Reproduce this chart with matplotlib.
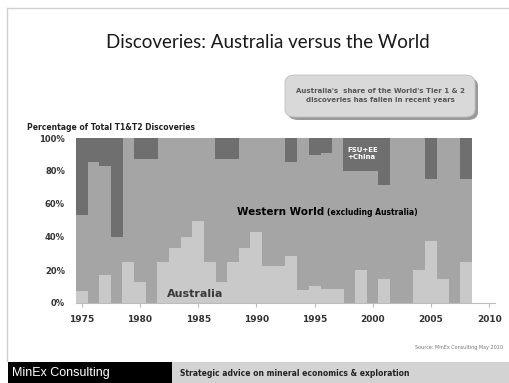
import numpy as np
import matplotlib
matplotlib.use("Agg")
from matplotlib import pyplot as plt
from matplotlib.patches import FancyBboxPatch, Rectangle
from matplotlib.lines import Line2D

# share of T1&T2 discoveries (%), by year
years = list(range(1975, 2009))
australia = [7.1, 0, 16.7, 0, 25, 12.5, 0, 25, 33.3, 40, 50, 25, 12.5, 25, 33.3, 42.9, 22.2,
             22.2, 28.6, 7.7, 10.5, 8.3, 8.3, 0, 20, 0, 14.3, 0, 0, 20, 37.5, 14.3, 0, 25]
western = [46.2, 85.7, 66.6, 40, 75, 75, 87.5, 75, 66.7, 60, 50, 75, 75, 62.5, 66.7, 57.1, 77.8,
           77.8, 57.1, 92.3, 79, 82.6, 91.7, 80, 60, 80, 57.1, 100, 100, 80, 37.5, 85.7, 100, 50]
fsu = [46.7, 14.3, 16.7, 60, 0, 12.5, 12.5, 0, 0, 0, 0, 0, 12.5, 12.5, 0, 0, 0,
       0, 14.3, 0, 10.5, 9.1, 0, 20, 20, 20, 28.6, 0, 0, 0, 25, 0, 0, 25]
xticks = [1975, 1980, 1985, 1990, 1995, 2000, 2005, 2010]
yticks = [0, 20, 40, 60, 80, 100]

narrow = ['Liberation Sans Narrow', 'DejaVu Sans']

fig = plt.figure(figsize=(5.09, 3.83), dpi=100)
fig.patch.set_facecolor('white')

ax = fig.add_axes([76/509, 1-303/383, 419/509, 165/383])
aus = np.array(australia)
ww = np.array(western)
# bars a touch wider than a year so neighbours overlap and no hairline shows
w = 1.04
ax.bar(years, western, width=w, bottom=aus, color='#a5a5a5', linewidth=0)
ax.bar(years, fsu, width=w, bottom=aus+ww, color='#6f6f6f', linewidth=0)
ax.bar(years, australia, width=w, color='#c9c9c9', linewidth=0)

ax.set_xlim(1974.5, 2010.5)
ax.set_ylim(0, 100)
ax.set_xticks(xticks)
ax.set_xticklabels([str(t) for t in xticks], family=narrow, fontsize=6.5, weight='bold', color='#333333')
ax.set_yticks(yticks)
ax.set_yticklabels(['%d%%' % t for t in yticks], family=narrow, fontsize=6, weight='bold', color='#333333')
for s in ['top', 'right', 'left']:
    ax.spines[s].set_visible(False)
ax.spines['bottom'].set_color('#bbbbbb')
ax.tick_params(axis='x', length=3, color='#bbbbbb', pad=6)
ax.tick_params(axis='y', length=0, pad=8)

t = ax.text(1988.3, 55, 'Western World ', family=narrow, fontsize=7.5, weight='bold', va='center')
ax.annotate('(excluding Australia)', xy=(1, 0.5), xycoords=t, va='center', ha='left',
            family=narrow, fontsize=5.5, weight='bold')
ax.text(1982.3, 5.5, 'Australia', family=narrow, fontsize=8, weight='bold', color='#3a3a3a', va='center')
ax.text(1997.8, 90.5, 'FSU+EE\n+China', family=narrow, fontsize=5, weight='bold', color='white',
        va='center', linespacing=1.3)

# slide decorations
fig.add_artist(Line2D([7/509, 1], [1-8/383, 1-8/383], color='#d0d0d0', lw=1))
fig.add_artist(Line2D([7/509, 7/509], [1-8/383, 1-361/383], color='#d0d0d0', lw=1))
fig.text(268/509, 1-43/383, 'Discoveries: Australia versus the World', ha='center', va='center',
         family='Lato', fontsize=13.5, color='#1a1a1a')
fig.text(27/509, 1-127/383, 'Percentage of Total T1&T2 Discoveries', family=narrow, fontsize=5.5,
         weight='bold', color='#222222', va='center')

shadow = FancyBboxPatch((288/509, 1-120/383), 190/509, 42/383, boxstyle='round,pad=0,rounding_size=0.02',
                        transform=fig.transFigure, facecolor='#9a9a9a', edgecolor='none')
box = FancyBboxPatch((285/509, 1-117/383), 190/509, 42/383, boxstyle='round,pad=0,rounding_size=0.02',
                     transform=fig.transFigure, facecolor='#d9d9d9', edgecolor='#c0c0c0', lw=0.6)
fig.add_artist(shadow)
fig.add_artist(box)
fig.text(380/509, 1-96/383, "Australia's  share of the World's Tier 1 & 2\ndiscoveries has fallen in recent years",
         ha='center', va='center', family=narrow, fontsize=5, weight='bold', color='#555555', linespacing=1.6)

fig.text(503/509, 1-348/383, 'Source: MinEx Consulting May 2010', ha='right', va='center',
         family=narrow, fontsize=3.5, color='#777777')

fig.add_artist(Rectangle((8/509, 0), 164/509, 21/383, transform=fig.transFigure, facecolor='black', edgecolor='none'))
fig.add_artist(Rectangle((172/509, 0), 337/509, 21/383, transform=fig.transFigure, facecolor='#d3d3d3', edgecolor='none'))
fig.text(12/509, 10/383, 'MinEx Consulting', color='white', fontsize=9, family='Liberation Sans', va='center')
fig.text(180/509, 9/383, 'Strategic advice on mineral economics & exploration', color='#222222', fontsize=5.5,
         family=narrow, weight='bold', va='center')

fig.savefig('out.png', dpi=100)
